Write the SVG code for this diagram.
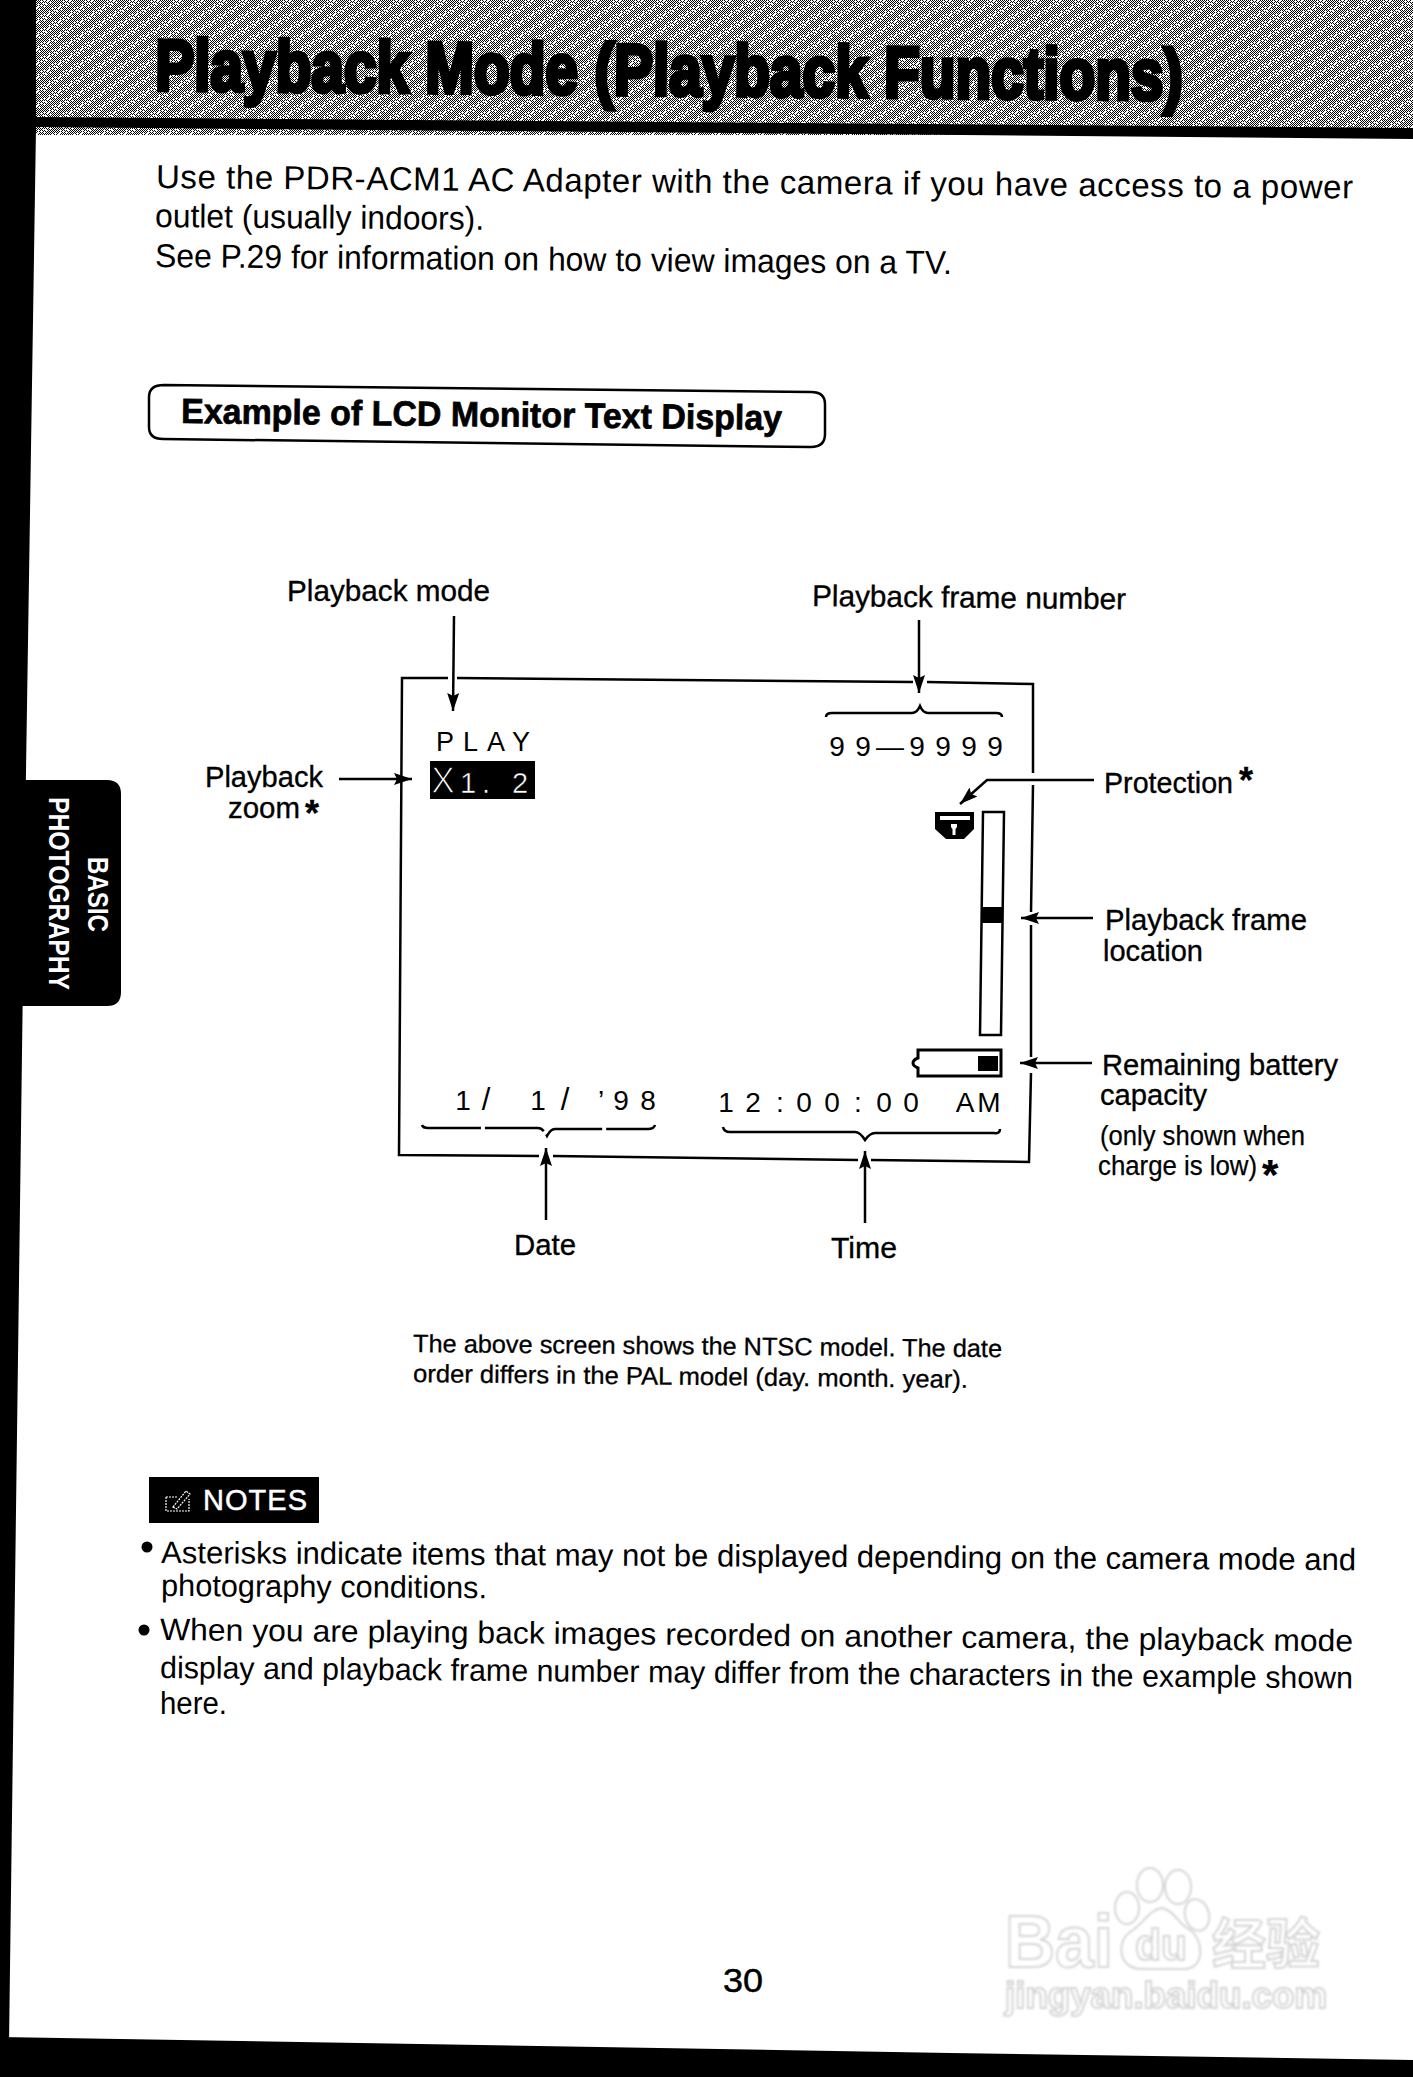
<svg xmlns="http://www.w3.org/2000/svg" width="1413" height="2077" viewBox="0 0 1413 2077">
<style>
text{font-family:"Liberation Sans",Arial,sans-serif;fill:#000}
.body{font-size:33px}
.note{font-size:31px}
.lab{font-size:30px;stroke:#000;stroke-width:.35px}
.small{font-size:27px;stroke:#000;stroke-width:.25px}
.cap{font-size:25px;stroke:#000;stroke-width:.3px}
.lcd{font-size:28px;text-anchor:middle}
.star{font-weight:700}
.rev{fill:#fff;stroke:#000;stroke-width:.5px}
.line{fill:none;stroke:#000;stroke-width:2.5}
.arrow{fill:none;stroke:#000;stroke-width:2.5;marker-end:url(#head)}
.wm{fill:#fff;stroke:#d4d4d4;stroke-width:2;font-weight:700}
</style>
<defs>
<pattern id="ht" width="2" height="2" patternUnits="userSpaceOnUse"><rect width="2" height="2" fill="#fff"/><path d="M0 0h1v1H0zM1 1h1v1H1z" fill="#000"/></pattern>
<pattern id="ht2" width="11" height="7" patternUnits="userSpaceOnUse"><path d="M0 0h1v1H0zM4 0h1v1H4zM3 1h1v1H3zM8 1h1v1H8zM6 2h1v1H6zM1 3h1v1H1zM10 3h1v1H10zM5 4h1v1H5zM2 4h1v1H2zM8 5h1v1H8zM0 6h1v1H0zM5 6h1v1H5z" fill="#fff"/></pattern>
<marker id="head" markerUnits="userSpaceOnUse" markerWidth="20" markerHeight="14" refX="18" refY="7" orient="auto"><path d="M0 1 L18 7 L0 13 L3 7 Z" fill="#000"/></marker>
<filter id="soft" x="-5%" y="-5%" width="110%" height="110%"><feGaussianBlur stdDeviation="0.9"/></filter>
</defs>
<rect width="1413" height="2077" fill="#fff"/>
<g id="page-edges">
<rect x="0" y="0" width="1413" height="135" fill="url(#ht)" shape-rendering="crispEdges"/>
<rect x="0" y="0" width="1413" height="135" fill="url(#ht2)" shape-rendering="crispEdges"/>
<polygon points="36,117 1413,128 1413,139 36,127" fill="#000"/>
<polygon points="0,0 36,0 36,127 24,900 9,2045 0,2045" fill="#000"/>
<polygon points="0,2037 950,2053 1413,2060 1413,2077 0,2077" fill="#000"/>
</g>
<g id="title"><text transform="translate(155 90) rotate(.55) scale(.813 1)" font-size="72" font-weight="700" stroke="#000" stroke-width="4.500">Playback Mode (Playback Functions)</text></g>
<g id="intro">
<text class="body" x="156" y="188" transform="rotate(.5 156 188)" textLength="1197" lengthAdjust="spacing">Use the PDR-ACM1 AC Adapter with the camera if you have access to a power</text>
<text class="body" x="155" y="227" transform="rotate(.5 155 227)" textLength="329" lengthAdjust="spacingAndGlyphs">outlet (usually indoors).</text>
<text class="body" x="155" y="267" transform="rotate(.5 155 267)" textLength="797" lengthAdjust="spacingAndGlyphs">See P.29 for information on how to view images on a TV.</text>
</g>
<g id="tab">
<path d="M20 780 H107 Q121 780 121 794 V992 Q121 1006 107 1006 H20 Z" fill="#000"/>
<text transform="translate(49 797) rotate(90)" font-size="30" font-weight="700" style="fill:#fff" textLength="193" lengthAdjust="spacingAndGlyphs">PHOTOGRAPHY</text>
<text transform="translate(88 857) rotate(90)" font-size="30" font-weight="700" style="fill:#fff" textLength="75" lengthAdjust="spacingAndGlyphs">BASIC</text>
</g>
<g id="section-heading">
<path class="line" d="M164 385 L811 392 Q825 392 825 404 V434 Q825 447 811 447 L163 439 Q149 439 149 427 V397 Q149 385 164 385 Z"/>
<text x="181" y="423" transform="rotate(.65 181 423)" font-size="35" font-weight="700" stroke="#000" stroke-width=".7" textLength="601" lengthAdjust="spacingAndGlyphs">Example of LCD Monitor Text Display</text>
</g>
<g id="screen">
<path class="line" d="M448 678 L402 678 L399 1155 L539 1156 M553 1156 L858 1160 M871 1160 L1029 1162 L1031 1073 M1031 1057 L1031 925 M1031 912 L1033 785 M1033 773 L1033 684 L927 682 M913 682 L457 678"/>
</g>
<g id="lcd-play"><text x="436" y="751" font-size="27" textLength="94" lengthAdjust="spacing">PLAY</text></g>
<g id="lcd-zoom"><rect x="430" y="761" width="105" height="38" fill="#000"/><text y="793"><tspan class="rev" x="431" style="font-size:36px;stroke-width:1.300px">X</tspan><tspan class="rev" x="460" style="font-size:29px">1</tspan><tspan class="rev" x="482" style="font-size:29px">.</tspan><tspan class="rev" x="512" style="font-size:29px">2</tspan></text></g>
<g id="lcd-frame-number"><text class="lcd" x="837 863 890 917 943 969 995" y="756">99—9999</text></g>
<g id="lcd-protect"><path d="M935 812 H974 V829 L964 839 H946 L935 829 Z" fill="#000"/><rect x="940" y="816" width="30" height="4" fill="#fff"/><path d="M951 824 H957 V827 L955.500 829 V835 H952.500 V829 L951 827 Z" fill="#fff"/></g>
<g id="lcd-location"><polygon class="line" points="983,812 1004,812 1001,1035 980,1035"/><polygon points="982,907 1003,907 1003,923 982,923" fill="#000"/></g>
<g id="lcd-battery"><path d="M918 1050 H1001 V1076 H918 V1068 Q913 1066 913 1063 Q913 1060 918 1058 Z" fill="none" stroke="#000" stroke-width="3"/><rect x="978" y="1056" width="20" height="15" fill="#000"/></g>
<g id="lcd-date"><text class="lcd" y="1110"><tspan x="463">1</tspan><tspan x="486" style="font-size:31px">/</tspan><tspan x="538">1</tspan><tspan x="565" style="font-size:31px">/</tspan><tspan x="601">’</tspan><tspan x="621">9</tspan><tspan x="648">8</tspan></text></g>
<g id="lcd-time"><text class="lcd" x="726 753 780 804 832 858 884 911 965 989" y="1112">12:00:00AM</text></g>
<g id="label-playback-mode"><text class="lab" x="287" y="601" textLength="203" lengthAdjust="spacingAndGlyphs">Playback mode</text></g>
<g id="label-frame-number"><text class="lab" x="812" y="606" transform="rotate(.6 812 606)" textLength="314" lengthAdjust="spacingAndGlyphs">Playback frame number</text></g>
<g id="label-zoom"><text class="lab" x="205" y="787" textLength="118" lengthAdjust="spacingAndGlyphs">Playback</text><text class="lab" x="228" y="818" textLength="72" lengthAdjust="spacingAndGlyphs">zoom</text><text class="lab star" x="305" y="826" style="font-size:36px">*</text></g>
<g id="label-protection"><text class="lab" x="1104" y="793" textLength="129" lengthAdjust="spacingAndGlyphs">Protection</text><text class="lab star" x="1239" y="793" style="font-size:36px">*</text></g>
<g id="label-location"><text class="lab" x="1105" y="930" textLength="202" lengthAdjust="spacingAndGlyphs">Playback frame</text><text class="lab" x="1103" y="961" textLength="100" lengthAdjust="spacingAndGlyphs">location</text></g>
<g id="label-battery"><text class="lab" x="1102" y="1075" textLength="236" lengthAdjust="spacingAndGlyphs">Remaining battery</text><text class="lab" x="1100" y="1105" textLength="107" lengthAdjust="spacingAndGlyphs">capacity</text><text class="small" x="1100" y="1145" textLength="205" lengthAdjust="spacingAndGlyphs">(only shown when</text><text class="small" x="1098" y="1175" textLength="159" lengthAdjust="spacingAndGlyphs">charge is low)</text><text class="small star" x="1262" y="1189" style="font-size:42px">*</text></g>
<g id="label-date"><text class="lab" x="514" y="1255" textLength="62" lengthAdjust="spacingAndGlyphs">Date</text></g>
<g id="label-time"><text class="lab" x="831" y="1258" textLength="66" lengthAdjust="spacingAndGlyphs">Time</text></g>
<g id="connectors">
<line class="arrow" x1="454" y1="616" x2="453" y2="711"/>
<line class="arrow" x1="919" y1="620" x2="919" y2="693"/>
<line class="arrow" x1="339" y1="779" x2="412" y2="779"/>
<path class="arrow" d="M1094 780 H987 L960 804"/>
<line class="arrow" x1="1093" y1="918" x2="1021" y2="918"/>
<line class="arrow" x1="1092" y1="1063" x2="1020" y2="1063"/>
<line class="arrow" x1="546" y1="1220" x2="546" y2="1148"/>
<line class="arrow" x1="865" y1="1223" x2="865" y2="1151"/>
<path class="line" stroke-width="2" d="M826 717 Q826 713 832 713 H912 Q917 713 920 706 Q923 713 928 713 H996 Q1002 713 1002 717"/>
<path class="line" d="M422 1125 Q423 1128 428 1128 H538 Q543 1128 547 1136 Q551 1128 556 1129 H648 Q654 1129 655 1125" stroke-dasharray="60 4"/>
<path class="line" d="M723 1127 Q724 1132 730 1132 H855 Q860 1132 865 1140 Q870 1133 875 1133 H994 Q1000 1134 1000 1129"/>
</g>
<g id="caption">
<text class="cap" x="413" y="1352" transform="rotate(.5 413 1352)" textLength="589" lengthAdjust="spacingAndGlyphs">The above screen shows the NTSC model. The date</text>
<text class="cap" x="413" y="1382" transform="rotate(.6 413 1382)" textLength="555" lengthAdjust="spacingAndGlyphs">order differs in the PAL model (day. month. year).</text>
</g>
<g id="notes-badge">
<rect x="149" y="1477" width="170" height="46" fill="#000"/>
<path d="M166 1497 H177 M166 1497 V1511 H189 V1499 M173 1507 L186 1491 L190 1494 L177 1509 Z" fill="none" stroke="#fff" stroke-width="1.200" stroke-dasharray="2 1"/>
<text x="203" y="1510" font-size="29" stroke="#fff" stroke-width=".5" textLength="104" lengthAdjust="spacing" style="fill:#fff">NOTES</text>
</g>
<g id="notes">
<circle cx="147" cy="1547" r="5.500"/>
<text class="note" x="161" y="1563" transform="rotate(.35 161 1563)" textLength="1195" lengthAdjust="spacingAndGlyphs">Asterisks indicate items that may not be displayed depending on the camera mode and</text>
<text class="note" x="161" y="1596" transform="rotate(.4 161 1596)" textLength="326" lengthAdjust="spacingAndGlyphs">photography conditions.</text>
<circle cx="144" cy="1630" r="5.500"/>
<text class="note" x="160" y="1640" transform="rotate(.55 160 1640)" textLength="1193" lengthAdjust="spacingAndGlyphs">When you are playing back images recorded on another camera, the playback mode</text>
<text class="note" x="160" y="1678" transform="rotate(.5 160 1678)" textLength="1193" lengthAdjust="spacingAndGlyphs">display and playback frame number may differ from the characters in the example shown</text>
<text class="note" x="160" y="1714" textLength="67" lengthAdjust="spacingAndGlyphs">here.</text>
</g>
<g id="page-number"><text x="723" y="1992" font-size="34" stroke="#000" stroke-width=".5" textLength="40" lengthAdjust="spacingAndGlyphs">30</text></g>
<g id="watermark" filter="url(#soft)">
<text class="wm" x="1005" y="1967" font-size="74" textLength="108" lengthAdjust="spacingAndGlyphs">Bai</text>
<ellipse class="wm" cx="1150" cy="1885" rx="13" ry="17"/>
<ellipse class="wm" cx="1178" cy="1887" rx="13" ry="17"/>
<ellipse class="wm" cx="1127" cy="1908" rx="12" ry="16"/>
<ellipse class="wm" cx="1197" cy="1915" rx="12" ry="16" transform="rotate(-15 1197 1915)"/>
<path class="wm" d="M1162 1908 C1176 1912 1178 1924 1190 1930 C1204 1940 1206 1970 1182 1969 C1170 1969 1154 1969 1142 1969 C1118 1969 1116 1942 1130 1932 C1142 1926 1148 1910 1162 1908 Z"/>
<text class="wm" x="1135" y="1960" font-size="44" textLength="52" lengthAdjust="spacingAndGlyphs">du</text>
<text class="wm" x="1212" y="1964" font-size="54" style="font-family:'Liberation Sans','Noto Sans CJK SC',sans-serif">经验</text>
<text class="wm" x="1005" y="2008" font-size="37" textLength="322" lengthAdjust="spacingAndGlyphs">jingyan.baidu.com</text>
</g>
</svg>
